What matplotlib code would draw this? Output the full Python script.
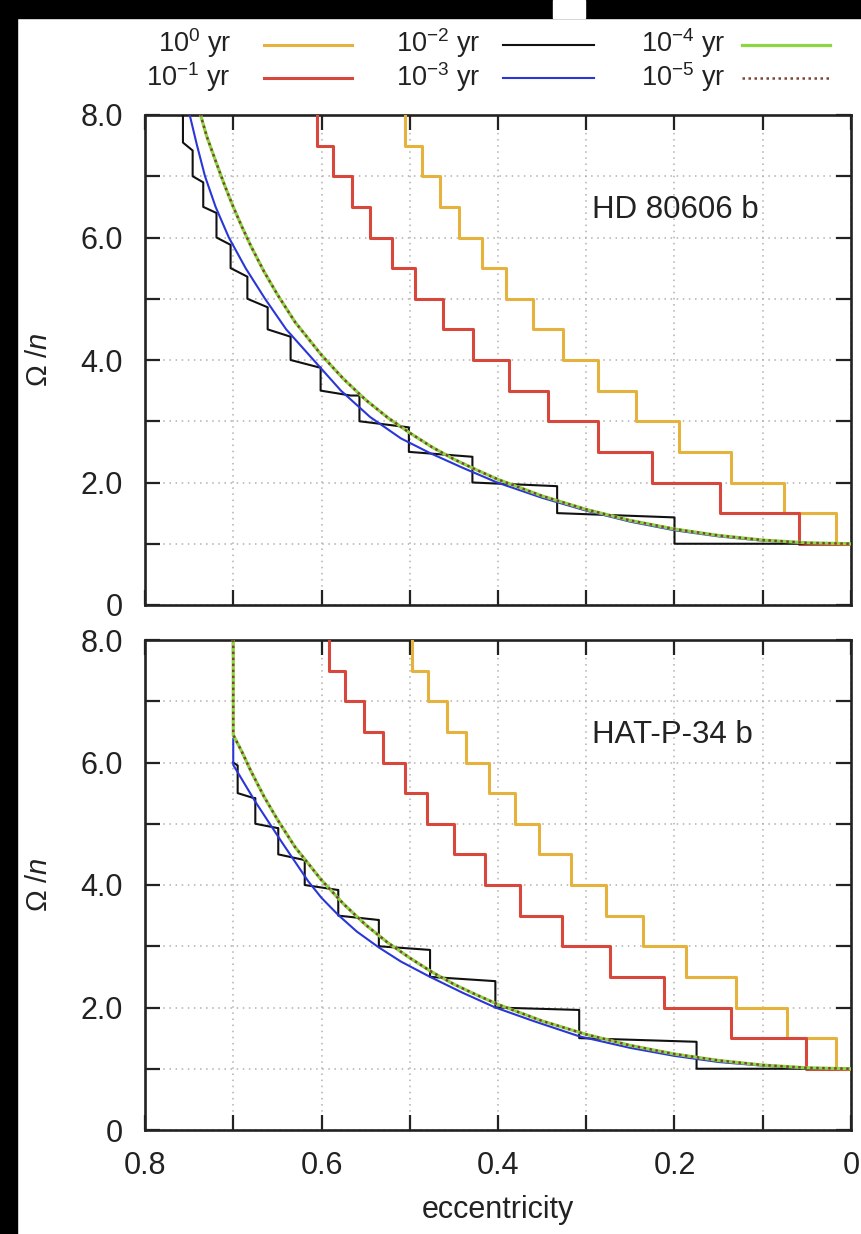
import matplotlib
matplotlib.use('Agg')
import matplotlib.pyplot as plt
from matplotlib.patches import Rectangle
from matplotlib.lines import Line2D

plt.rcParams['font.family'] = ['Liberation Sans', 'DejaVu Sans']
plt.rcParams['mathtext.fontset'] = 'custom'
plt.rcParams['mathtext.rm'] = 'Liberation Sans'
plt.rcParams['mathtext.it'] = 'Liberation Sans:italic'
plt.rcParams['mathtext.bf'] = 'Liberation Sans:bold'

# ---------------- data ----------------
x_ticks = [0.8, 0.7, 0.6, 0.5, 0.4, 0.3, 0.2, 0.1, 0.0]
x_ticklabels = ['0.8', '', '0.6', '', '0.4', '', '0.2', '', '0']
y_ticks = [0, 1, 2, 3, 4, 5, 6, 7, 8]
y_ticklabels = ['0', '', '2.0', '', '4.0', '', '6.0', '', '8.0']

legend_labels = [r'$10^{0}$ yr', r'$10^{-1}$ yr', r'$10^{-2}$ yr',
                 r'$10^{-3}$ yr', r'$10^{-4}$ yr', r'$10^{-5}$ yr']
panel_names = ['HD 80606 b', 'HAT-P-34 b']

# staircase levels (Omega/n) shared by the 10^0 and 10^-1 yr curves
step_levels = [8.0, 7.5, 7.0, 6.5, 6.0, 5.5, 5.0, 4.5, 4.0, 3.5, 3.0, 2.5, 2.0, 1.5, 1.0, 1.0]

# HD 80606 b : eccentricities where the staircases drop by 0.5
hd_gold_e = [0.505, 0.505, 0.486, 0.466, 0.444, 0.418, 0.391, 0.360, 0.326, 0.287,
             0.244, 0.195, 0.136, 0.076, 0.017, 0.000]
hd_red_e = [0.605, 0.605, 0.587, 0.565, 0.545, 0.520, 0.494, 0.462, 0.428, 0.388,
            0.343, 0.287, 0.225, 0.148, 0.059, 0.000]
hd_black_e = [0.757, 0.757, 0.746, 0.746, 0.734, 0.734, 0.719, 0.719, 0.703, 0.703,
              0.684, 0.684, 0.661, 0.661, 0.635, 0.635, 0.603, 0.601, 0.601, 0.567,
              0.557, 0.557, 0.501, 0.501, 0.429, 0.429, 0.333, 0.333, 0.200, 0.200, 0.000]
hd_black_y = [8.3, 7.55, 7.42, 7.0, 6.9, 6.5, 6.4, 6.0, 5.88, 5.5,
              5.36, 5.0, 4.86, 4.5, 4.38, 4.0, 3.88, 3.88, 3.5, 3.42,
              3.42, 3.0, 2.9, 2.5, 2.42, 2.0, 1.94, 1.5, 1.43, 1.0, 1.0]
hd_blue_e = [0.751, 0.741, 0.732, 0.720, 0.705, 0.686, 0.664, 0.640, 0.609, 0.578,
             0.545, 0.510, 0.477, 0.440, 0.401, 0.350, 0.300, 0.250, 0.200, 0.150,
             0.100, 0.050, 0.000]
hd_blue_y = [8.1, 7.5, 7.0, 6.5, 6.0, 5.5, 5.0, 4.5, 4.0, 3.5,
             3.07, 2.72, 2.48, 2.24, 2.0, 1.75, 1.54, 1.36, 1.22, 1.12,
             1.05, 1.01, 1.00]
hd_green_e = [0.742, 0.737, 0.730, 0.720, 0.710, 0.700, 0.690, 0.680, 0.665, 0.650,
              0.630, 0.600, 0.575, 0.550, 0.525, 0.500, 0.475, 0.450, 0.425, 0.400,
              0.350, 0.300, 0.250, 0.200, 0.150, 0.100, 0.050, 0.000]
hd_green_y = [8.3, 8.0, 7.65, 7.25, 6.86, 6.50, 6.17, 5.86, 5.44, 5.07,
              4.62, 4.08, 3.69, 3.35, 3.06, 2.81, 2.58, 2.38, 2.21, 2.05,
              1.78, 1.56, 1.38, 1.24, 1.135, 1.06, 1.015, 1.0]
hd_dot_e = hd_green_e        # 10^-5 yr lies on top of 10^-4 yr
hd_dot_y = hd_green_y

# HAT-P-34 b
hat_gold_e = [0.498, 0.498, 0.479, 0.458, 0.436, 0.410, 0.381, 0.353, 0.317, 0.278,
              0.236, 0.187, 0.130, 0.072, 0.017, 0.000]
hat_red_e = [0.591, 0.591, 0.573, 0.552, 0.530, 0.505, 0.480, 0.450, 0.415, 0.375,
             0.328, 0.273, 0.212, 0.136, 0.051, 0.000]
hat_black_e = [0.700, 0.695, 0.695, 0.677, 0.675, 0.675, 0.650, 0.649, 0.649, 0.620,
               0.619, 0.619, 0.582, 0.581, 0.581, 0.536, 0.535, 0.535, 0.477, 0.477,
               0.403, 0.403, 0.308, 0.308, 0.175, 0.175, 0.000]
hat_black_y = [6.0, 5.95, 5.5, 5.42, 5.42, 5.0, 4.93, 4.93, 4.5, 4.41,
               4.41, 4.0, 3.92, 3.92, 3.5, 3.43, 3.43, 3.0, 2.94, 2.5,
               2.43, 2.0, 1.96, 1.5, 1.44, 1.0, 1.0]
hat_blue_e = [0.700, 0.700, 0.690, 0.675, 0.660, 0.645, 0.630, 0.615, 0.600, 0.581,
              0.560, 0.535, 0.510, 0.477, 0.440, 0.403, 0.360, 0.308, 0.250, 0.200,
              0.150, 0.100, 0.050, 0.000]
hat_blue_y = [6.38, 5.96, 5.72, 5.36, 5.03, 4.70, 4.38, 4.06, 3.79, 3.51,
              3.24, 2.98, 2.75, 2.50, 2.24, 2.00, 1.78, 1.53, 1.34, 1.21,
              1.11, 1.05, 1.01, 1.00]
hat_green_e = [0.700, 0.700, 0.690, 0.680, 0.665, 0.650, 0.630, 0.600, 0.575, 0.550,
               0.525, 0.500, 0.475, 0.450, 0.425, 0.400, 0.350, 0.300, 0.250, 0.200,
               0.150, 0.100, 0.050, 0.000]
hat_green_y = [8.3, 6.45, 6.17, 5.86, 5.44, 5.07, 4.62, 4.08, 3.69, 3.35,
               3.06, 2.81, 2.58, 2.38, 2.21, 2.05, 1.78, 1.56, 1.38, 1.24,
               1.135, 1.06, 1.015, 1.0]
hat_dot_e = hat_green_e
hat_dot_y = hat_green_y

# ---------------- styles ----------------
C_GOLD = '#e6b23e'
C_RED = '#d8473b'
C_BLACK = '#111111'
C_BLUE = '#2a36d8'
C_GREEN = '#8bd641'
C_DOT = '#7d4436'
TXT = '#222222'
FS = 22
FS_LEG = 19.5

styles = [
    dict(color=C_GOLD, lw=2.2, ls='-'),
    dict(color=C_RED, lw=2.2, ls='-'),
    dict(color=C_BLACK, lw=1.5, ls='-'),
    dict(color=C_BLUE, lw=1.5, ls='-'),
    dict(color=C_GREEN, lw=2.3, ls='-'),
    dict(color=C_DOT, lw=1.8, ls=(0, (1.0, 1.4))),
]

W, H = 862, 1234
fig = plt.figure(figsize=(W / 100, H / 100), dpi=100)
fig.patch.set_facecolor('white')


def fx(px):
    return px / W


def fy(py):
    return 1 - py / H


L, R = 145, 851
ax_top = fig.add_axes([fx(L), fy(605), fx(R) - fx(L), fy(115) - fy(605)])
ax_bot = fig.add_axes([fx(L), fy(1130), fx(R) - fx(L), fy(640) - fy(1130)])


def style_axes(ax, show_x):
    ax.set_xlim(0.8, 0.0)
    ax.set_ylim(0, 8)
    ax.set_xticks(x_ticks)
    ax.set_xticklabels(x_ticklabels if show_x else [''] * len(x_ticks))
    ax.set_yticks(y_ticks)
    ax.set_yticklabels(y_ticklabels)
    ax.tick_params(direction='in', length=11, width=1.6, top=True, right=True,
                   labelsize=FS, colors=TXT)
    ax.tick_params(axis='y', pad=16)
    ax.tick_params(axis='x', pad=15)
    ax.grid(True, color='#b0b0b0', linestyle=(0, (1, 3)), linewidth=1.1)
    ax.set_axisbelow(True)
    for s in ax.spines.values():
        s.set_linewidth(1.9)
        s.set_color(TXT)
    ax.set_ylabel(r'$\Omega\ /n$', fontsize=FS - 1, color=TXT)
    ax.yaxis.label.set_va('center')
    ax.yaxis.set_label_coords(-0.150, 0.5)


def draw_panel(ax, gold_e, red_e, black_e, black_y, blue_e, blue_y,
               green_e, green_y, dot_e, dot_y, name):
    ax.step(gold_e, step_levels, where='post', **styles[0], zorder=3)
    ax.step(red_e, step_levels, where='post', **styles[1], zorder=3)
    ax.plot(black_e, black_y, **styles[2], zorder=4)
    ax.plot(blue_e, blue_y, **styles[3], zorder=4)
    ax.plot(green_e, green_y, **styles[4], zorder=5)
    ax.plot(dot_e, dot_y, **styles[5], zorder=6)
    ax.text(0.293, 6.45, name, fontsize=FS + 0.5, color=TXT, ha='left', va='center')


style_axes(ax_top, False)
style_axes(ax_bot, True)
draw_panel(ax_top, hd_gold_e, hd_red_e, hd_black_e, hd_black_y, hd_blue_e, hd_blue_y,
           hd_green_e, hd_green_y, hd_dot_e, hd_dot_y, panel_names[0])
draw_panel(ax_bot, hat_gold_e, hat_red_e, hat_black_e, hat_black_y, hat_blue_e, hat_blue_y,
           hat_green_e, hat_green_y, hat_dot_e, hat_dot_y, panel_names[1])

ax_bot.set_xlabel('eccentricity', fontsize=FS, color=TXT)
ax_bot.xaxis.set_label_coords(0.5, -0.163)
ax_bot.xaxis.label.set_va('center')

# ---------------- legend (label left of line sample) ----------------
col_text_right = [231, 481, 726]
col_line = [(264, 352), (503, 594), (742, 830)]
row_base = [52, 86]
row_line = [45, 78]
for i, lab in enumerate(legend_labels):
    c, r = divmod(i, 2)
    fig.text(fx(col_text_right[c]), fy(row_base[r]), lab, ha='right', va='baseline',
             fontsize=FS_LEG, color=TXT)
    x0, x1 = col_line[c]
    fig.add_artist(Line2D([fx(x0), fx(x1)], [fy(row_line[r]), fy(row_line[r])],
                          transform=fig.transFigure, **styles[i]))

# ---------------- dark frame of the screenshot ----------------
fig.add_artist(Rectangle((0, 0), 17 / W, 1, transform=fig.transFigure,
                         color='black', zorder=20))
fig.add_artist(Rectangle((0, 1 - 18 / H), 1, 18 / H, transform=fig.transFigure,
                         color='black', zorder=20))
fig.add_artist(Rectangle((553 / W, 1 - 18 / H), 32 / W, 18 / H, transform=fig.transFigure,
                         color='white', zorder=21))

fig.savefig('out.png', dpi=100, facecolor='white')
